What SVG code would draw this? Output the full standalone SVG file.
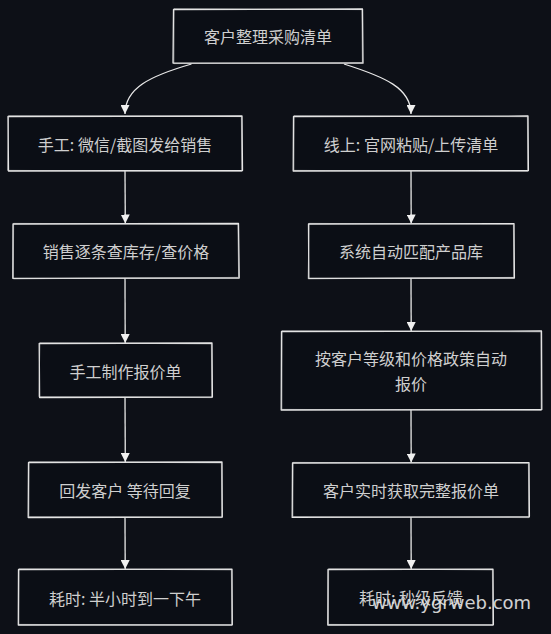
<svg xmlns="http://www.w3.org/2000/svg" width="551" height="634" viewBox="0 0 551 634">
<defs>
<style>
.bg{fill:#0d1017}
.box{fill:#0b0e15;stroke:#e8e8e8;stroke-width:1.3;stroke-linejoin:round}
.box2{fill:none;stroke:#d8d8d8;stroke-width:0.8;opacity:0.8}
.t{font-family:"Noto Sans CJK SC","Noto Sans",sans-serif;font-size:16px;fill:#cfcfcf;text-anchor:middle;dominant-baseline:central}
.edge{fill:none;stroke:#e8e8e8;stroke-width:1.3}
.wm{font-family:"DejaVu Sans",sans-serif;font-size:18px;fill:#e6e6e6;opacity:0.9}
</style>
<marker id="ah" viewBox="0 0 10 10" refX="10" refY="5" markerWidth="9" markerHeight="9" markerUnits="userSpaceOnUse" orient="auto">
<path d="M0,0 L10,5 L0,10 z" fill="#f0f0f0"/>
</marker>
</defs>
<rect class="bg" x="0" y="0" width="551" height="634"/>

<g id="edges">
<path class="edge" d="M191.5,64 C150,76 125,88 125,114" marker-end="url(#ah)"/>
<path class="edge" d="M344,64 C385,77 411,88 411,114" marker-end="url(#ah)"/>
<path class="edge" d="M125,171 L125.3,223.5" marker-end="url(#ah)"/>
<path class="edge" d="M125,278 L125.2,343" marker-end="url(#ah)"/>
<path class="edge" d="M125,397 L125.3,462" marker-end="url(#ah)"/>
<path class="edge" d="M125,517 L125.2,569" marker-end="url(#ah)"/>
<path class="edge" d="M411,171 L411.2,223.5" marker-end="url(#ah)"/>
<path class="edge" d="M411,278 L411.2,331" marker-end="url(#ah)"/>
<path class="edge" d="M411,410 L411.2,462.5" marker-end="url(#ah)"/>
<path class="edge" d="M411,517 L411.2,569" marker-end="url(#ah)"/>
</g>

<g id="n0">
<path class="box" d="M173.5,9.5 L362.5,9 L363,63.2 L173,63 Z"/>
<path class="box2" d="M174,8.8 L362,9.6 L362.4,62.6 L173.8,63.6 Z"/>
<text class="t" x="268" y="36">客户整理采购清单</text>
</g>

<g id="n1">
<path class="box" d="M8,116.5 L242,116 L242.5,170.5 L8.5,171 Z"/>
<path class="box2" d="M8.6,115.8 L241.4,116.6 L241.8,171.4 L7.6,170.4 Z"/>
<text class="t" x="125" y="143.5">手工: 微信/截图发给销售</text>
</g>

<g id="n2">
<path class="box" d="M13,224 L238.5,223.5 L239.2,278 L12.8,278.3 Z"/>
<path class="box2" d="M13.6,223.4 L238,224.2 L238.6,277.4 L13.4,278.8 Z"/>
<text class="t" x="126" y="251">销售逐条查库存/查价格</text>
</g>

<g id="n3">
<path class="box" d="M39.2,343.5 L212,343 L212.4,397 L39.6,397.5 Z"/>
<path class="box2" d="M39.8,342.9 L211.4,343.8 L211.8,397.6 L39,396.8 Z"/>
<text class="t" x="125.5" y="370.5">手工制作报价单</text>
</g>

<g id="n4">
<path class="box" d="M28.5,462.5 L222,462 L222.3,517 L28.2,517.5 Z"/>
<path class="box2" d="M29,461.9 L221.4,462.8 L221.8,517.6 L28.8,516.8 Z"/>
<text class="t" x="125" y="490">回发客户 等待回复</text>
</g>

<g id="n5">
<path class="box" d="M18.5,569.5 L232,569.2 L232.3,624.8 L18.3,625 Z"/>
<path class="box2" d="M19,568.9 L231.4,569.8 L231.8,625.4 L18.8,624.4 Z"/>
<text class="t" x="125" y="597.5">耗时: 半小时到一下午</text>
</g>

<g id="n6">
<path class="box" d="M293.5,116.5 L528,116 L528.4,170.6 L293.2,171 Z"/>
<path class="box2" d="M294,115.8 L527.4,116.7 L527.8,171.4 L293.8,170.4 Z"/>
<text class="t" x="411" y="143.5">线上: 官网粘贴/上传清单</text>
</g>

<g id="n7">
<path class="box" d="M308.5,224 L514,223.6 L514.4,278 L308.8,278.4 Z"/>
<path class="box2" d="M309,223.4 L513.4,224.3 L513.8,277.4 L308.2,278.8 Z"/>
<text class="t" x="411" y="251">系统自动匹配产品库</text>
</g>

<g id="n8">
<path class="box" d="M281.5,331.5 L541.5,331 L541.8,409.6 L281.2,410 Z"/>
<path class="box2" d="M282,330.9 L541,331.8 L541.2,410.4 L281.8,409.4 Z"/>
<text class="t" x="411" y="358">按客户等级和价格政策自动</text>
<text class="t" x="411" y="382.5">报价</text>
</g>

<g id="n9">
<path class="box" d="M292.5,463 L529,462.6 L529.4,516.8 L292.2,517.4 Z"/>
<path class="box2" d="M293,462.4 L528.4,463.3 L528.8,517.6 L292.8,516.6 Z"/>
<text class="t" x="411" y="490">客户实时获取完整报价单</text>
</g>

<g id="n10">
<path class="box" d="M328,569.5 L493,569.2 L493.4,624.8 L327.8,625 Z"/>
<path class="box2" d="M328.6,568.9 L492.4,569.8 L492.8,625.4 L328.4,624.4 Z"/>
<text class="t" x="411" y="597">耗时: 秒级反馈</text>
</g>

<text class="wm" x="372" y="609">www.ygrweb.com</text>
</svg>
